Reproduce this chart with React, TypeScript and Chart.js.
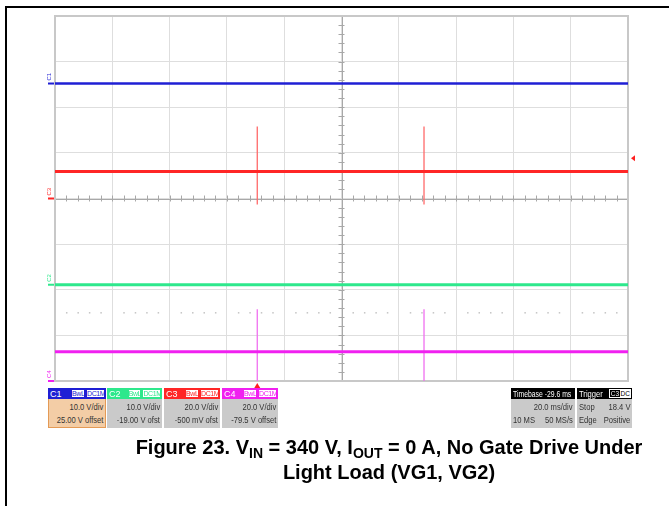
import React, { useEffect, useRef } from 'react';
import { Chart, registerables } from 'chart.js';

Chart.register(...registerables);

// ---- data (screen divisions: x 0..10, y -4..4) ----
const channelNames = ['C1', 'C2', 'C3', 'C4'];
const channelColors = ['#1f1fd4', '#2ee88c', '#ff2626', '#f020f0'];
const spikeColors = ['#1f1fd4', '#2ee88c', '#ff6a6a', '#f070f0'];
const traceLevels = [2.52, -1.89, 0.59, -3.36];
const markerLevels = [2.52, -1.89, 0.0, -4.0];
const spikeTimes = [3.53, 6.44];
const spikeTops: (number | null)[] = [null, null, 1.58, -2.43];
const spikeBottoms: (number | null)[] = [null, null, -0.13, -4.0];
const dottedLevel = -2.5;
const triggerLevel = 0.88;
const triggerTime = 3.53;

const voltsPerDiv = ['10.0 V/div', '10.0 V/div', '20.0 V/div', '20.0 V/div'];
const offsets = ['25.00 V offset', '-19.00 V ofst', '-500 mV ofst', '-79.5 V offset'];

const FONT = '"Liberation Sans", Arial, Helvetica, sans-serif';

const scopePlugin = {
  id: 'scopeDecor',
  beforeDatasetsDraw(chart: any) {
    const { ctx, chartArea: a, scales } = chart;
    const x = scales.x, y = scales.y;
    ctx.save();
    const cx = x.getPixelForValue(5), cy = y.getPixelForValue(0);
    ctx.strokeStyle = '#a8a8a8';
    ctx.lineWidth = 1;
    ctx.beginPath();
    ctx.moveTo(a.left, Math.round(cy) + 0.5); ctx.lineTo(a.right, Math.round(cy) + 0.5);
    ctx.moveTo(Math.round(cx) + 0.5, a.top); ctx.lineTo(Math.round(cx) + 0.5, a.bottom);
    for (let i = 0; i <= 50; i++) {
      const px = Math.round(x.getPixelForValue(i * 0.2)) + 0.5;
      ctx.moveTo(px, cy - 3); ctx.lineTo(px, cy + 3);
    }
    for (let i = 0; i <= 40; i++) {
      const py = Math.round(y.getPixelForValue(-4 + i * 0.2)) + 0.5;
      ctx.moveTo(cx - 3, py); ctx.lineTo(cx + 3, py);
    }
    ctx.stroke();
    ctx.fillStyle = '#c4c4c4';
    const dy = y.getPixelForValue(dottedLevel);
    for (let i = 1; i < 50; i++) {
      if (i % 5 === 0) continue;
      const px = x.getPixelForValue(i * 0.2);
      ctx.fillRect(px - 0.5, dy - 0.5, 1.5, 1.5);
    }
    ctx.strokeStyle = '#c8c8c8';
    ctx.lineWidth = 2;
    ctx.strokeRect(a.left, a.top, a.width, a.height);
    ctx.restore();
  },
  afterDatasetsDraw(chart: any) {
    const { ctx, chartArea: a, scales } = chart;
    const x = scales.x, y = scales.y;
    ctx.save();
    for (let i = 0; i < channelNames.length; i++) {
      const py = y.getPixelForValue(markerLevels[i]);
      ctx.fillStyle = channelColors[i];
      ctx.fillRect(a.left - 7, py - 1, 6, 2);
      ctx.save();
      ctx.translate(a.left - 6, py - 3);
      ctx.rotate(-Math.PI / 2);
      ctx.font = '6px ' + FONT;
      ctx.textBaseline = 'middle';
      ctx.fillText(channelNames[i], 0, 0);
      ctx.restore();
    }
    const ty = y.getPixelForValue(triggerLevel);
    ctx.fillStyle = '#ff2020';
    ctx.beginPath();
    ctx.moveTo(a.right + 3, ty);
    ctx.lineTo(a.right + 7, ty - 3);
    ctx.lineTo(a.right + 7, ty + 3);
    ctx.closePath();
    ctx.fill();
    const tx = x.getPixelForValue(triggerTime);
    ctx.beginPath();
    ctx.moveTo(tx, a.bottom + 2);
    ctx.lineTo(tx - 3, a.bottom + 7);
    ctx.lineTo(tx + 3, a.bottom + 7);
    ctx.closePath();
    ctx.fill();
    ctx.restore();
  },
};

function buildDatasets() {
  const ds: any[] = [];
  for (let i = 0; i < channelNames.length; i++) {
    const top = spikeTops[i], bot = spikeBottoms[i];
    if (top !== null && bot !== null) {
      const pts: any[] = [];
      spikeTimes.forEach((t) => {
        pts.push({ x: t, y: bot }, { x: t, y: top }, { x: t, y: null });
      });
      ds.push({
        label: channelNames[i] + ' spikes',
        data: pts,
        borderColor: spikeColors[i],
        borderWidth: 1.3,
        pointRadius: 0,
        spanGaps: false,
        order: 2,
      });
    }
    ds.push({
      label: channelNames[i],
      data: [{ x: 0, y: traceLevels[i] }, { x: 10, y: traceLevels[i] }],
      borderColor: channelColors[i],
      borderWidth: i === 0 ? 2.5 : 3,
      pointRadius: 0,
      order: 1,
    });
  }
  return ds;
}

function ScopeChart() {
  const ref = useRef<HTMLCanvasElement>(null);
  useEffect(() => {
    if (!ref.current) return;
    const chart = new Chart(ref.current, {
      type: 'line',
      data: { datasets: buildDatasets() },
      options: {
        animation: false,
        responsive: true,
        maintainAspectRatio: false,
        layout: { padding: { left: 15, right: 17, top: 10, bottom: 11 } },
        plugins: { legend: { display: false }, tooltip: { enabled: false } },
        scales: {
          x: {
            type: 'linear', min: 0, max: 10,
            ticks: { display: false, stepSize: 1 },
            grid: { color: '#dedede', drawTicks: false, tickLength: 0 },
            border: { display: false },
          },
          y: {
            type: 'linear', min: -4, max: 4,
            ticks: { display: false, stepSize: 1 },
            grid: { color: '#dedede', drawTicks: false, tickLength: 0 },
            border: { display: false },
          },
        },
      },
      plugins: [scopePlugin],
    } as any);
    return () => chart.destroy();
  }, []);
  return (
    <div style={{ position: 'absolute', left: 40, top: 6, width: 605, height: 386 }}>
      <canvas ref={ref} />
    </div>
  );
}

function Cond({ text, align, size = 9.5, color, scale = 0.8 }: { text: string; align: 'left' | 'right'; size?: number; color?: string; scale?: number }) {
  return (
    <span style={{
      position: 'absolute', [align]: 2, top: 0, whiteSpace: 'nowrap', display: 'inline-block',
      transform: `scaleX(${scale})`, transformOrigin: align, fontSize: size, color,
    } as React.CSSProperties}>{text}</span>
  );
}

function Row({ left, right }: { left?: string; right?: string }) {
  return (
    <div style={{ position: 'relative', height: 13 }}>
      {left ? <Cond text={left} align="left" /> : null}
      {right ? <Cond text={right} align="right" /> : null}
    </div>
  );
}

function Tag({ text, color, width }: { text: string; color: string; width: number }) {
  return (
    <span style={{
      background: '#ffffff', color, border: '1px solid ' + color, fontSize: 7, whiteSpace: 'nowrap',
      lineHeight: '7px', height: 7, width, marginLeft: 1, display: 'inline-block', textAlign: 'center',
      letterSpacing: '-0.4px', overflow: 'hidden', boxSizing: 'content-box',
    }}>{text}</span>
  );
}

const bodyStyle: React.CSSProperties = {
  height: 29, boxSizing: 'border-box', background: '#cacaca', color: '#333', fontSize: 9.5,
  lineHeight: '13px', paddingTop: 1,
};

function ChannelBox({ i, left, width }: { i: number; left: number; width: number }) {
  const first = i === 0;
  return (
    <div style={{ position: 'absolute', left, top: 388, width, height: 40, fontFamily: FONT }}>
      <div style={{ height: 11, background: channelColors[i], display: 'flex', alignItems: 'center', overflow: 'hidden' }}>
        <span style={{ color: '#fff', fontSize: 9, width: 18, paddingLeft: 2 }}>{channelNames[i]}</span>
        <span style={{ flex: 1 }} />
        <Tag text="BwL" color={channelColors[i]} width={12} />
        <Tag text="DC1M" color={channelColors[i]} width={17} />
        <span style={{ width: 1 }} />
      </div>
      <div style={{
        ...bodyStyle, background: first ? '#f3cda6' : '#cacaca',
        border: first ? '1px solid #e49a55' : 'none', borderTop: 'none',
      }}>
        <Row right={voltsPerDiv[i]} />
        <Row right={offsets[i]} />
      </div>
    </div>
  );
}

function InfoBar() {
  const lefts = [48, 107, 164, 222];
  const widths = [58, 55, 56, 56];
  return (
    <>
      {channelNames.map((_, i) => (
        <ChannelBox key={i} i={i} left={lefts[i]} width={widths[i]} />
      ))}
      <div style={{ position: 'absolute', left: 511, top: 388, width: 64, height: 40, fontFamily: FONT }}>
        <div style={{ position: 'relative', height: 11, background: '#000', color: '#fff', fontSize: 9.5, lineHeight: '11px' }}>
          <Cond text="Timebase -29.6 ms" align="left" size={9.5} color="#fff" scale={0.72} />
        </div>
        <div style={bodyStyle}>
          <Row right="20.0 ms/div" />
          <Row left="10 MS" right="50 MS/s" />
        </div>
      </div>
      <div style={{ position: 'absolute', left: 577, top: 388, width: 55, height: 40, fontFamily: FONT }}>
        <div style={{ position: 'relative', height: 11, background: '#000', color: '#fff', fontSize: 9.5, lineHeight: '11px' }}>
          <Cond text="Trigger" align="left" size={9.5} color="#fff" />
          <span style={{ position: 'absolute', right: 11, top: 1, border: '1px solid #fff', fontSize: 6.5, lineHeight: '7px', padding: '0 1px' }}>C3</span>
          <span style={{ position: 'absolute', right: 1, top: 1, background: '#fff', color: '#000', fontSize: 6.5, lineHeight: '9px', padding: '0 1px' }}>DC</span>
        </div>
        <div style={bodyStyle}>
          <Row left="Stop" right="18.4 V" />
          <Row left="Edge" right="Positive" />
        </div>
      </div>
    </>
  );
}

function Caption() {
  const sub = { fontSize: 14, verticalAlign: '-4px', lineHeight: 0 } as React.CSSProperties;
  return (
    <div style={{
      position: 'absolute', left: 89, top: 435, width: 600, textAlign: 'center',
      fontFamily: FONT, fontWeight: 'bold', fontSize: 20, lineHeight: '25px', color: '#000',
    }}>
      <div>Figure 23. V<span style={sub}>IN</span> = 340 V, I<span style={sub}>OUT</span> = 0 A, No Gate Drive Under</div>
      <div>Light Load (VG1, VG2)</div>
    </div>
  );
}

export default function App() {
  return (
    <div style={{ position: 'fixed', left: 0, top: 0, width: 669, height: 506, background: '#fff', overflow: 'hidden' }}>
      <div style={{ position: 'absolute', left: 5, top: 6, right: 0, bottom: 0, borderTop: '2px solid #000', borderLeft: '2px solid #000' }} />
      <ScopeChart />
      <InfoBar />
      <Caption />
    </div>
  );
}
